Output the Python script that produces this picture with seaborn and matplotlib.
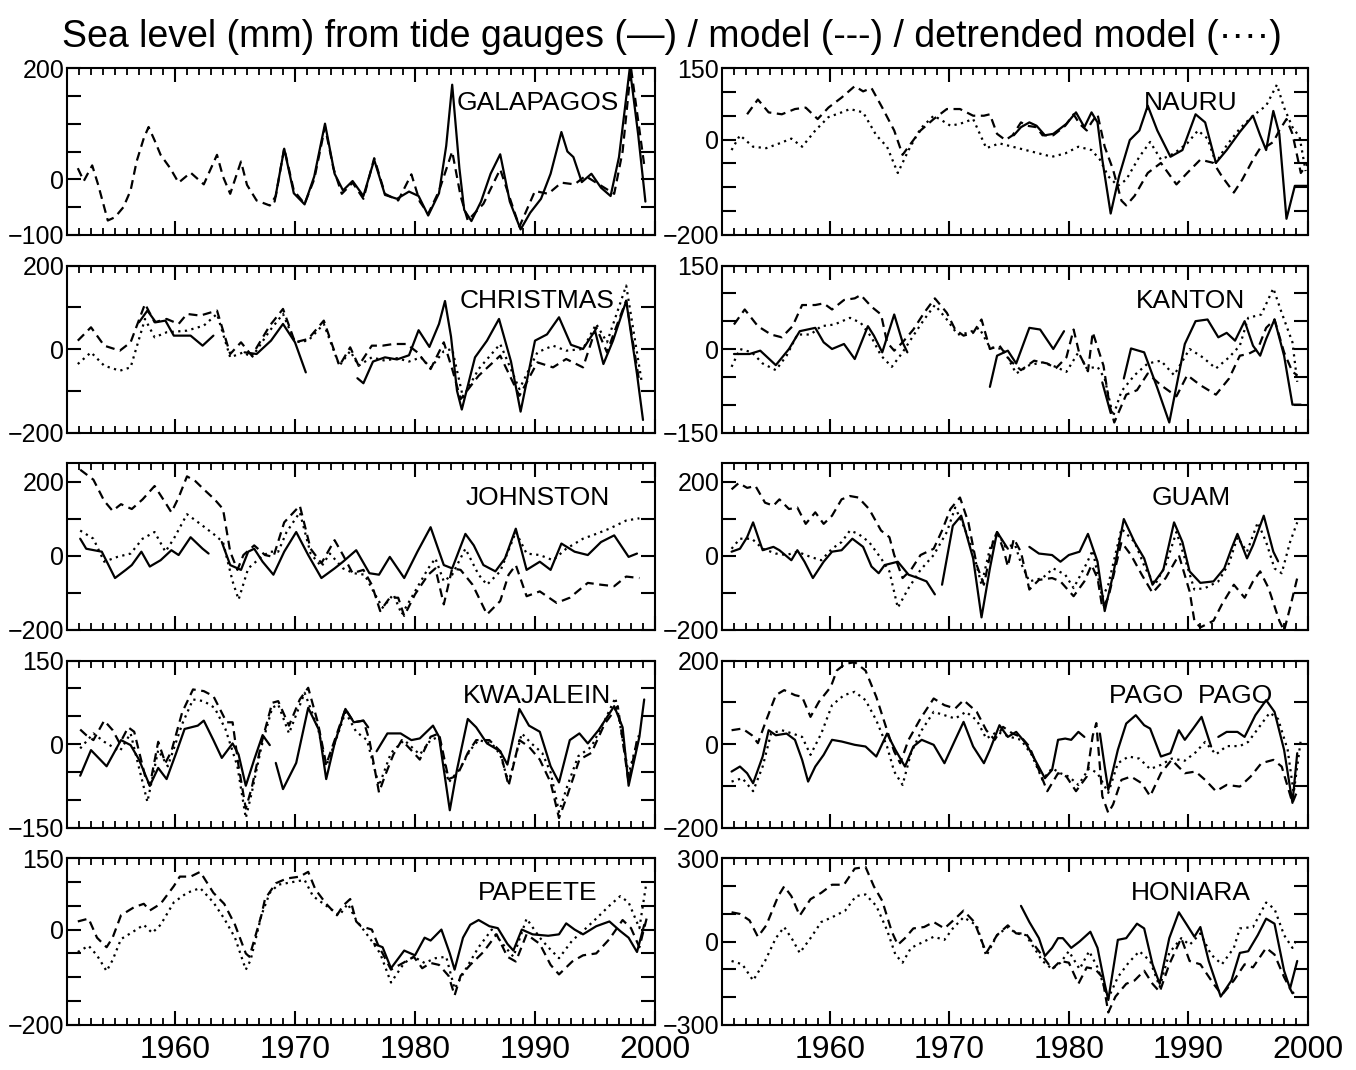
import numpy as np
import pandas as pd
import matplotlib
matplotlib.use("Agg")
import matplotlib.pyplot as plt
import seaborn as sns

# ---------------- data (year, sea level mm); None marks a gap ----------------
GAL_GAUGE = [(1968.3,-40),(1969.1,55),(1969.9,-25),(1970.8,-45),(1971.6,5),(1972.5,100),(1973.3,10),
             (1974.0,-20),(1974.8,-3),(1975.7,-30),(1976.6,35),(1977.5,-28),(1978.5,-35),(1979.5,-22),
             (1980.3,-30),(1981.1,-65),(1982.0,-25),(1982.6,60),(1983.1,170),(1983.7,20),(1984.1,-55),
             (1984.7,-75),(1985.5,-40),(1986.3,10),(1987.1,45),(1987.9,-40),(1988.8,-90),(1989.6,-60),
             (1990.5,-35),(1991.3,10),(1992.2,85),(1992.7,50),(1993.2,40),(1993.9,-5),(1994.7,10),
             (1995.5,-15),(1996.3,-30),(1997.0,40),(1997.9,200),(1998.6,80),(1999.2,-40)]
GAL_MODEL = [(1951.9,20),(1952.4,-3),(1953.1,25),(1953.6,-10),(1954.4,-74),(1955.0,-68),(1955.7,-50),
             (1956.3,-20),(1956.8,32),(1957.4,74),(1957.8,94),(1958.3,70),(1958.8,44),(1959.6,20),
             (1960.3,-6),(1961.3,12),(1962.4,-9),(1963.5,44),(1964.0,5),(1964.6,-26),(1965.5,32),
             (1966.0,-10),(1966.8,-38),(1967.9,-47),(1968.4,-30),(1969.1,56),(1969.9,-20),(1970.8,-44),
             (1971.6,0),(1972.5,94),(1973.2,20),(1973.9,-26),(1974.8,-6),(1975.7,-35),(1976.6,38),
             (1977.5,-26),(1978.6,-38),(1979.7,9),(1980.4,-40),(1981.1,-62),(1982.0,-21),(1983.1,50),
             (1983.8,-30),(1984.4,-74),(1985.7,-44),(1987.1,18),(1988.0,-40),(1988.7,-85),(1990.0,-21),
             (1991.1,-26),(1992.2,-6),(1993.3,-9),(1994.2,6),(1995.1,-6),(1996.6,-26),(1997.3,50),
             (1998.0,200),(1999.1,26)]
GAL_DETR = []

CHR_GAUGE = [(1957.0,64),(1957.7,92),(1958.4,64),(1959.2,68),(1959.9,32),(1961.3,32),(1962.3,8),(1963.2,32),
             (1964.0,None),(1965.8,-8),(1966.8,-12),(1968.0,20),(1969.0,60),(1970.0,16),(1970.9,-56),
             (1973.0,None),(1975.2,-70),(1975.7,-82),(1976.5,-30),(1977.5,-20),(1978.5,-25),(1979.5,-15),
             (1980.3,45),(1981.2,5),(1982.0,60),(1982.5,115),(1983.0,30),(1983.5,-100),(1983.9,-145),
             (1985.0,-20),(1986.0,20),(1987.0,72),(1988.0,-30),(1988.8,-150),(1990.0,20),(1991.0,35),
             (1992.0,76),(1993.0,10),(1994.0,0),(1995.0,44),(1995.7,-36),(1996.5,20),(1997.6,115),
             (1998.5,-60),(1999.0,-170)]
CHR_MODEL = [(1951.9,20),(1953.0,52),(1954.1,8),(1955.4,-4),(1956.3,16),(1957.5,108),(1958.3,64),
             (1959.3,72),(1960.3,60),(1961.0,84),(1962.1,80),(1963.5,92),(1964.6,-12),(1965.5,16),
             (1966.4,-16),(1967.9,56),(1969.0,96),(1970.0,16),(1971.1,24),(1972.4,68),(1973.7,-40),
             (1974.6,4),(1975.3,-40),(1976.4,8),(1977.3,8),(1978.2,12),(1979.3,12),(1980.2,-8),
             (1981.3,-48),(1982.4,16),(1983.1,-48),(1983.8,-120),(1985.3,-64),(1987.1,-16),(1988.7,-112),
             (1990.2,-32),(1991.5,-44),(1992.6,-24),(1994.0,-44),(1995.1,52),(1996.0,-8),(1996.6,40),
             (1997.6,116),(1998.7,-80)]
CHR_DETR = [(1951.9,-36),(1953.0,-8),(1954.1,-40),(1955.4,-52),(1956.3,-44),(1957.5,72),(1958.3,28),
            (1959.3,40),(1961.0,44),(1962.4,56),(1963.5,84),(1964.6,-20),(1965.7,-8),(1966.4,-20),
            (1967.9,44),(1969.0,84),(1970.0,16),(1971.1,20),(1972.4,60),(1973.7,-40),(1974.6,-5),
            (1975.3,-40),(1976.4,-20),(1977.5,-28),(1978.5,-22),(1979.5,-30),(1980.5,-20),(1981.3,-45),
            (1982.4,-5),(1983.1,0),(1984.0,-116),(1985.3,-48),(1987.1,12),(1988.7,-96),(1990.2,-8),
            (1991.5,8),(1992.6,-4),(1994.0,0),(1995.1,60),(1996.0,16),(1997.6,152),(1998.9,-80)]

JOH_GAUGE = [(1952.1,46),(1952.6,19),(1953.9,11),(1955.0,-60),(1955.9,-38),(1956.4,-25),(1957.2,11),
             (1957.9,-29),(1958.8,-12),(1959.7,15),(1960.3,2),(1961.3,50),(1962.3,19),(1962.8,6),
             (1963.4,None),(1963.9,37),(1964.6,-25),(1965.5,-38),(1966.1,11),(1966.6,19),(1967.3,-16),
             (1968.2,-51),(1969.1,11),(1970.1,64),(1971.1,2),(1972.2,-60),(1973.3,-34),(1974.0,-16),
             (1975.1,15),(1976.2,-47),(1977.0,-51),(1977.9,-3),(1979.1,-60),(1980.2,11),(1981.3,77),
             (1982.4,-25),(1983.1,-34),(1984.2,59),(1984.9,28),(1985.7,-25),(1986.7,-42),(1987.5,-7),
             (1988.4,73),(1989.3,-38),(1990.4,-16),(1991.3,-38),(1992.2,33),(1993.3,11),(1994.4,2),
             (1995.5,37),(1996.6,55),(1997.8,-3),(1998.5,6)]
JOH_MODEL = [(1952.1,232),(1953.2,205),(1954.1,148),(1954.8,121),(1955.5,139),(1956.4,126),(1957.3,152),
             (1958.3,188),(1959.2,143),(1959.7,117),(1960.3,157),(1961.0,214),(1961.7,201),(1962.4,179),
             (1963.3,152),(1964.0,126),(1964.6,11),(1965.2,-38),(1965.7,2),(1966.6,28),(1967.5,2),
             (1968.2,-3),(1969.1,90),(1970.4,135),(1971.3,19),(1972.2,-20),(1973.3,42),(1974.0,2),
             (1974.8,-47),(1975.7,-38),(1976.4,-78),(1977.1,-149),(1977.9,-113),(1978.6,-113),
             (1979.1,-162),(1980.0,-104),(1981.1,-51),(1981.7,-34),(1982.4,-131),(1983.1,-34),
             (1983.8,-38),(1984.8,-78),(1986.0,-158),(1987.1,-122),(1987.8,-51),(1988.4,-25),
             (1989.3,-109),(1990.4,-96),(1991.8,-127),(1992.9,-113),(1994.4,-73),(1995.5,-78),
             (1996.6,-82),(1997.6,-56),(1998.7,-60)]
JOH_DETR = [(1952.1,68),(1953.2,46),(1954.1,-16),(1955.2,-3),(1956.3,6),(1957.3,46),(1958.3,64),
            (1959.2,11),(1959.9,46),(1961.0,112),(1962.1,86),(1963.2,59),(1964.0,37),(1964.8,-69),
            (1965.3,-118),(1966.1,-34),(1967.2,-3),(1967.9,11),(1968.6,11),(1969.3,64),(1970.4,117),
            (1971.3,6),(1972.2,-29),(1972.9,6),(1974.0,-34),(1974.9,-47),(1975.8,-51),(1976.6,-100),
            (1977.3,-140),(1978.2,-104),(1978.9,-158),(1980.0,-96),(1981.1,-34),(1981.7,-7),
            (1982.4,-69),(1983.1,-51),(1984.2,19),(1985.3,-51),(1986.0,-78),(1987.1,-42),(1988.4,64),
            (1989.3,6),(1990.4,2),(1991.5,-12),(1992.6,19),(1994.0,46),(1995.1,59),(1996.2,73),
            (1997.6,95),(1998.7,101)]

KWA_GAUGE = [(1952.1,-57),(1953.0,-11),(1954.3,-40),(1955.5,7),(1956.3,-2),(1957.0,-28),(1957.9,-75),
             (1958.6,-43),(1959.3,-63),(1960.1,-16),(1960.8,27),(1961.9,33),(1962.4,42),(1963.2,7),
             (1963.9,-25),(1964.8,1),(1965.3,-19),(1965.9,-75),(1966.6,-28),(1967.3,16),(1967.9,-2),
             (1968.1,None),(1968.4,-34),(1969.0,-81),(1970.1,-34),(1971.1,65),(1972.0,25),(1972.6,-63),
             (1973.3,1),(1974.2,63),(1974.9,39),(1975.7,42),(1976.1,30),(1976.5,None),(1976.8,-13),
             (1977.7,19),(1978.8,19),(1979.7,7),(1980.4,10),(1981.5,33),(1982.0,13),(1982.9,-119),
             (1983.5,-46),(1984.4,45),(1985.1,30),(1986.0,1),(1987.1,-13),(1987.7,-37),(1988.7,63),
             (1989.5,33),(1990.4,22),(1991.3,-40),(1992.0,-69),(1992.9,7),(1993.7,19),(1994.4,1),
             (1995.3,25),(1996.6,68),(1997.3,30),(1997.8,-75),(1998.7,13),(1999.1,80)]
KWA_MODEL = [(1952.1,26),(1952.6,16),(1953.2,7),(1954.1,42),(1954.8,25),(1955.4,1),(1956.1,30),
             (1956.6,22),(1957.5,-57),(1957.9,-75),(1958.6,4),(1959.2,-34),(1959.7,-13),(1960.6,57),
             (1961.5,98),(1962.4,95),(1963.2,86),(1964.3,39),(1964.8,39),(1965.3,-40),(1965.9,-116),
             (1966.4,-78),(1967.2,1),(1968.1,74),(1968.6,77),(1969.5,33),(1970.4,80),(1971.1,101),
             (1971.9,39),(1972.6,-37),(1973.5,19),(1974.2,63),(1974.9,39),(1975.7,42),(1976.2,7),
             (1977.0,-87),(1977.5,-57),(1978.2,-19),(1978.9,7),(1979.9,-16),(1980.4,-28),(1981.3,13),
             (1982.0,19),(1982.8,-63),(1983.5,-57),(1984.4,-16),(1985.1,7),(1986.2,7),(1987.1,-13),
             (1987.8,-75),(1988.7,7),(1989.5,-5),(1990.4,-28),(1991.3,-69),(1992.0,-133),(1992.7,-92),
             (1993.7,-28),(1994.7,-16),(1995.8,36),(1996.9,68),(1997.8,-69),(1998.5,7)]
KWA_DETR = [(1952.1,-8),(1953.2,19),(1954.1,4),(1955.4,-13),(1956.3,19),(1957.7,-104),(1958.6,-11),
            (1959.4,-40),(1960.6,36),(1961.5,80),(1962.4,77),(1963.3,65),(1964.2,27),(1965.2,-40),
            (1965.9,-133),(1966.4,-87),(1967.2,-5),(1968.1,65),(1968.6,71),(1969.5,19),(1970.8,92),
            (1971.9,30),(1972.6,-40),(1973.5,13),(1974.2,57),(1975.1,22),(1976.0,7),(1977.0,-75),
            (1978.0,-16),(1979.1,7),(1980.4,-19),(1981.3,7),(1982.0,13),(1982.8,-69),(1983.7,-46),
            (1984.6,-11),(1985.3,7),(1986.4,1),(1987.1,-19),(1987.8,-69),(1988.9,19),(1989.7,1),
            (1990.6,-16),(1991.3,-51),(1992.0,-122),(1992.7,-75),(1993.6,-22),(1994.7,-5),(1995.8,42),
            (1996.7,83),(1997.8,-54),(1998.7,19)]

PAP_GAUGE = [(1976.6,-30),(1977.3,-37),(1978.0,-81),(1979.1,-44),(1980.0,-54),(1980.8,-17),(1981.3,-23),
             (1982.2,0),(1982.9,-50),(1983.3,-84),(1984.0,-17),(1984.6,10),(1985.3,20),(1986.2,7),
             (1986.9,3),(1987.7,-30),(1988.2,-44),(1988.9,0),(1989.8,-10),(1991.1,-13),(1992.0,-10),
             (1992.6,13),(1993.3,0),(1994.0,-10),(1995.1,7),(1996.2,17),(1997.1,-3),(1997.8,-17),
             (1998.5,-47),(1999.1,10)]
PAP_MODEL = [(1951.9,17),(1952.8,23),(1953.5,-17),(1954.3,-37),(1954.8,-17),(1955.5,30),(1956.6,47),
             (1957.4,54),(1957.9,40),(1958.8,54),(1959.9,91),(1960.4,111),(1961.3,111),(1962.1,121),
             (1963.2,77),(1964.1,54),(1965.0,10),(1965.9,-50),(1966.2,-57),(1967.2,30),(1967.5,64),
             (1968.4,97),(1969.3,107),(1970.4,111),(1971.1,121),(1971.7,84),(1972.6,54),(1973.5,30),
             (1974.0,50),(1974.6,64),(1975.1,17),(1975.5,7),(1976.4,0),(1977.0,-37),(1977.3,-50),
             (1978.0,-84),(1979.0,-70),(1979.9,-57),(1980.6,-81),(1981.3,-70),(1982.0,-74),(1982.8,-97),
             (1983.3,-138),(1983.8,-97),(1984.6,-74),(1985.7,-47),(1986.8,-10),(1987.7,-57),(1988.4,-67),
             (1989.3,-10),(1990.4,-30),(1991.3,-74),(1992.0,-94),(1993.1,-67),(1994.0,-54),(1995.1,-50),
             (1996.2,-20),(1997.3,20),(1998.0,3),(1998.7,-37),(1999.3,23)]
PAP_DETR = [(1951.9,-47),(1952.8,-34),(1953.5,-54),(1954.3,-87),(1954.8,-64),(1955.5,-20),(1956.6,-3),
            (1957.4,10),(1958.1,-7),(1958.8,10),(1959.9,57),(1961.0,77),(1962.1,87),(1963.2,57),
            (1964.1,23),(1965.0,-17),(1965.9,-84),(1966.3,-64),(1967.2,30),(1967.9,77),(1968.6,94),
            (1970.1,101),(1970.8,104),(1971.5,70),(1972.6,50),(1973.7,30),(1974.4,54),(1975.1,20),
            (1976.2,-17),(1977.1,-50),(1978.0,-111),(1979.1,-70),(1979.9,-57),(1980.8,-70),(1981.7,-60),
            (1982.6,-57),(1983.3,-124),(1984.2,-84),(1985.3,-37),(1986.4,0),(1987.3,-30),(1988.2,-57),
            (1989.3,23),(1990.4,-17),(1991.1,-37),(1992.0,-60),(1993.1,-23),(1994.0,-3),(1995.1,23),
            (1996.2,50),(1997.1,70),(1997.8,57),(1998.7,3),(1999.3,101)]

NAU_GAUGE = [(1975.4,9),(1976.0,26),(1976.7,36),(1977.3,29),(1978.0,9),(1978.7,12),(1979.8,33),(1980.6,57),
             (1981.3,26),(1981.9,57),(1982.4,36),(1982.8,-42),(1983.5,-155),(1984.2,-77),(1985.1,-1),
             (1985.9,19),(1986.6,71),(1987.4,19),(1988.5,-36),(1989.5,-22),(1990.6,53),(1991.4,36),
             (1992.3,-49),(1993.2,-22),(1994.3,16),(1995.4,50),(1996.0,9),(1996.5,-22),(1997.1,60),
             (1997.6,12),(1998.2,-166),(1998.9,-97),(1999.9,-97)]
NAU_MODEL = [(1953.1,53),(1954.0,84),(1954.9,57),(1956.0,53),(1957.1,64),(1958.0,67),(1959.0,43),
             (1959.9,67),(1961.0,88),(1962.1,112),(1962.8,101),(1963.5,108),(1964.4,67),(1965.4,19),
             (1966.1,-32),(1966.8,-8),(1967.6,19),(1968.7,43),(1969.8,64),(1970.9,64),(1972.0,50),
             (1972.9,50),(1973.4,53),(1974.0,12),(1974.7,-1),(1975.3,9),(1976.0,36),(1976.5,29),
             (1977.3,26),(1977.8,9),(1978.7,9),(1979.7,29),(1980.4,53),(1980.9,33),(1981.5,19),
             (1981.9,36),(1982.4,53),(1983.0,-15),(1983.7,-63),(1984.4,-128),(1984.8,-138),(1985.5,-118),
             (1986.6,-70),(1987.7,-49),(1989.0,-94),(1989.9,-70),(1991.0,-42),(1992.1,-49),(1992.8,-77),
             (1993.8,-111),(1994.5,-84),(1995.4,-42),(1996.0,-18),(1996.5,-15),(1997.1,-5),(1997.6,19),
             (1998.2,43),(1998.7,12),(1999.4,-70),(2000.0,-49)]
NAU_DETR = [(1951.8,-22),(1952.5,9),(1953.6,-15),(1954.7,-18),(1955.8,-8),(1956.8,2),(1957.7,-15),
            (1958.8,19),(1959.9,47),(1961.0,57),(1961.7,64),(1962.8,57),(1963.9,9),(1964.8,-15),
            (1965.7,-70),(1966.6,-22),(1967.6,23),(1968.7,50),(1969.4,40),(1970.1,29),(1970.9,33),
            (1972.0,43),(1973.1,-18),(1974.2,-8),(1975.3,-15),(1976.4,-22),(1977.5,-29),(1978.6,-36),
            (1979.7,-29),(1980.8,-15),(1981.9,-22),(1982.6,-42),(1983.3,-77),(1984.1,-97),(1984.8,-84),
            (1985.9,-36),(1986.8,-5),(1987.7,-42),(1988.8,-29),(1989.9,-8),(1990.8,19),(1991.6,2),
            (1992.3,-49),(1993.2,-12),(1994.3,23),(1995.4,50),(1996.5,71),(1997.4,115),(1998.0,67),
            (1998.7,26),(1999.3,5),(1999.8,-66)]

KAN_GAUGE = [(1952.0,-9),(1953.3,-9),(1954.2,-3),(1955.5,-29),(1956.6,0),(1957.5,32),(1958.8,38),
             (1959.5,12),(1960.2,0),(1961.2,9),(1962.1,-18),(1963.2,41),(1963.7,24),(1964.4,-6),
             (1965.4,62),(1966.1,12),(1966.5,-6),(1970.0,None),(1973.4,-68),(1974.0,-12),(1974.9,-3),
             (1975.6,-26),(1976.7,38),(1977.6,35),(1978.7,0),(1979.6,32),(1981.0,None),(1982.8,-60),
             (1983.5,-115),(1984.0,None),(1984.6,-53),(1985.2,1),(1986.3,-6),(1987.4,-70),(1988.4,-132),
             (1989.7,9),(1990.6,50),(1991.6,53),(1992.5,21),(1993.2,29),(1993.9,15),(1994.7,50),
             (1995.4,6),(1996.0,-12),(1996.5,18),(1997.2,53),(1998.0,-12),(1998.7,-100),(1999.4,-100)]
KAN_MODEL = [(1952.0,44),(1952.9,71),(1954.0,41),(1955.1,26),(1956.0,21),(1956.9,41),(1957.7,79),
             (1958.8,79),(1959.5,82),(1960.2,71),(1961.2,88),(1962.1,91),(1962.6,97),(1963.5,76),
             (1964.3,62),(1964.8,12),(1965.4,-3),(1966.1,12),(1967.0,35),(1967.9,65),(1968.8,91),
             (1969.8,65),(1970.5,35),(1971.2,24),(1972.0,29),(1972.7,53),(1973.4,0),(1974.2,6),
             (1975.1,-21),(1976.0,-38),(1977.1,-21),(1978.2,-26),(1978.9,-35),(1979.8,-15),(1980.4,35),
             (1980.9,-10),(1981.6,-40),(1982.0,30),(1982.9,-30),(1983.4,-100),(1983.8,-132),(1984.8,-82),
             (1985.7,-74),(1986.6,-44),(1987.7,-65),(1989.0,-85),(1989.9,-47),(1991.0,-65),(1992.3,-82),
             (1993.4,-53),(1994.3,-12),(1995.0,-9),(1995.8,0),(1996.5,38),(1997.2,53),(1998.0,-6),
             (1998.7,-41),(1999.1,-47)]
KAN_DETR = [(1951.8,-32),(1952.5,0),(1953.5,-6),(1954.4,-26),(1955.5,-38),(1956.4,-12),(1957.3,26),
            (1958.4,26),(1959.3,41),(1960.4,44),(1961.7,56),(1962.6,47),(1963.5,21),(1964.3,-12),
            (1965.2,-32),(1966.1,-6),(1967.0,24),(1967.9,53),(1968.8,79),(1969.8,53),(1970.7,26),
            (1971.6,29),(1972.5,38),(1973.4,3),(1974.5,0),(1975.6,-44),(1976.7,-29),(1977.8,-24),
            (1978.9,-32),(1979.8,-41),(1980.8,-6),(1981.5,-35),(1982.4,-32),(1983.0,-53),(1983.7,-121),
            (1984.4,-76),(1985.5,-47),(1986.6,-26),(1987.7,-21),(1988.8,-47),(1990.1,0),(1991.2,-15),
            (1992.3,-35),(1993.4,-15),(1994.3,6),(1995.0,56),(1996.1,62),(1997.1,109),(1997.8,65),
            (1998.7,12),(1999.1,-59)]

GUA_GAUGE = [(1951.8,11),(1952.5,19),(1953.1,50),(1953.6,90),(1954.4,15),(1955.3,24),(1955.8,15),
             (1956.8,-12),(1957.3,15),(1957.9,-16),(1958.6,-60),(1959.5,-16),(1960.2,11),(1961.0,15),
             (1961.9,46),(1962.8,24),(1963.5,-29),(1964.1,-47),(1964.6,-25),(1965.7,-16),(1966.6,-51),
             (1967.4,-60),(1968.1,-69),(1968.8,-104),(1969.1,None),(1969.4,-78),(1970.3,81),(1971.0,108),
             (1972.0,-7),(1972.7,-166),(1973.4,-34),(1974.0,64),(1974.9,19),(1975.8,None),(1976.7,24),
             (1977.5,6),(1978.6,2),(1979.3,-16),(1980.0,2),(1980.9,11),(1981.6,59),(1982.4,-16),
             (1983.0,-149),(1983.7,-51),(1984.6,99),(1985.5,37),(1986.3,-7),(1987.0,-78),(1987.9,-38),
             (1988.8,90),(1989.5,37),(1990.1,-42),(1991.0,-73),(1992.1,-69),(1993.0,-34),(1993.6,19),
             (1994.1,59),(1994.9,-7),(1995.4,28),(1996.3,108),(1997.1,11),(1997.5,-15)]
GUA_MODEL = [(1951.8,179),(1952.4,196),(1953.1,183),(1953.8,188),(1954.6,143),(1955.3,135),(1955.8,152),
             (1956.6,126),(1957.3,130),(1958.0,86),(1958.8,117),(1959.5,86),(1960.2,108),(1961.0,152),
             (1961.7,161),(1962.4,157),(1963.3,126),(1964.3,68),(1965.0,50),(1965.4,2),(1966.1,-60),
             (1966.8,-38),(1967.6,2),(1968.7,19),(1969.4,68),(1970.1,126),(1970.9,157),(1971.6,90),
             (1972.3,-25),(1972.9,-78),(1973.6,30),(1974.0,64),(1974.6,10),(1974.9,-29),(1975.4,46),
             (1976.0,10),(1976.7,-91),(1977.5,-65),(1978.6,-60),(1979.3,-69),(1980.4,-109),(1981.3,-69),
             (1981.9,-25),(1982.4,-60),(1982.8,-140),(1983.3,-113),(1984.4,37),(1985.2,2),(1986.1,-51),
             (1987.0,-100),(1988.1,-60),(1989.2,2),(1990.1,-96),(1990.5,-175),(1991.0,-193),(1992.1,-175),
             (1992.8,-131),(1993.8,-78),(1994.7,-113),(1995.4,-69),(1996.0,-42),(1996.7,-87),(1997.6,-175),
             (1998.0,-202),(1998.5,-140),(1999.1,-60)]
GUA_DETR = [(1951.8,19),(1952.5,46),(1953.5,46),(1954.4,19),(1955.5,6),(1956.4,2),(1957.3,11),
            (1958.4,-3),(1959.3,-12),(1960.2,19),(1961.0,37),(1961.7,68),(1962.4,59),(1963.3,37),
            (1964.3,-7),(1965.0,-42),(1965.7,-140),(1966.6,-87),(1967.6,-38),(1968.7,2),(1969.8,64),
            (1970.5,130),(1971.3,73),(1972.0,11),(1972.7,-78),(1973.4,19),(1974.0,64),(1974.7,24),
            (1975.5,30),(1976.0,-20),(1976.7,-69),(1977.8,-60),(1978.7,-34),(1979.7,-51),(1980.4,-87),
            (1981.5,-20),(1982.0,15),(1982.8,-113),(1983.3,-78),(1984.4,73),(1985.5,37),(1986.4,-34),
            (1987.2,-78),(1988.1,-25),(1989.0,64),(1989.7,-7),(1990.5,-91),(1991.4,-87),(1992.5,-69),
            (1993.4,-20),(1994.1,50),(1994.9,11),(1995.8,90),(1996.5,37),(1997.2,-34),(1997.8,-47),
            (1998.5,37),(1999.1,90)]

PAG_GAUGE = [(1951.8,-66),(1952.5,-54),(1953.1,-70),(1953.6,-94),(1954.4,-30),(1954.9,33),(1955.5,21),
             (1956.4,25),(1957.1,10),(1957.7,-38),(1958.2,-90),(1958.8,-54),(1959.5,-26),(1960.2,10),
             (1961.0,6),(1962.1,-2),(1963.0,-6),(1963.9,-30),(1964.8,25),(1965.5,-14),(1966.3,-54),
             (1967.0,-6),(1967.7,10),(1968.7,-2),(1969.6,-46),(1970.5,10),(1971.2,53),(1972.0,-6),
             (1972.9,-46),(1973.4,-14),(1974.2,45),(1974.9,17),(1975.6,29),(1976.4,2),(1977.1,-34),
             (1978.0,-82),(1978.6,-62),(1979.1,10),(1979.7,13),(1980.2,10),(1980.8,29),(1981.3,17),
             (1982.0,None),(1982.6,25),(1983.0,-54),(1983.3,-110),(1984.1,-14),(1984.8,49),(1985.6,69),
             (1986.3,45),(1986.8,37),(1987.7,-30),(1988.5,-22),(1989.2,33),(1989.7,10),(1990.4,37),
             (1991.1,65),(1991.9,-6),(1992.2,None),(1992.5,17),(1993.2,29),(1994.1,29),(1994.7,17),
             (1995.6,69),(1996.5,105),(1997.2,77),(1998.0,-14),(1998.7,-141),(1999.1,-22)]
PAG_MODEL = [(1951.8,33),(1952.7,37),(1953.5,21),(1954.0,2),(1954.7,57),(1955.5,117),(1956.2,129),
             (1957.1,117),(1957.7,113),(1958.4,65),(1959.1,101),(1960.1,137),(1960.6,176),(1961.3,192),
             (1962.1,196),(1963.0,176),(1963.9,113),(1964.8,33),(1965.4,-18),(1965.9,-46),(1966.6,10),
             (1967.6,61),(1968.7,109),(1969.6,93),(1970.5,85),(1971.2,105),(1972.3,77),(1973.1,33),
             (1973.8,10),(1974.5,41),(1975.3,25),(1976.0,17),(1976.7,-6),(1977.6,-70),(1978.2,-113),
             (1979.1,-70),(1979.8,-78),(1980.6,-113),(1981.5,-78),(1982.0,20),(1982.3,50),(1982.8,-125),
             (1983.3,-165),(1983.7,-145),(1984.4,-86),(1985.2,-78),(1986.1,-94),(1986.8,-125),
             (1987.7,-70),(1988.6,-38),(1989.7,-70),(1990.6,-66),(1991.4,-86),(1992.3,-113),(1993.2,-98),
             (1994.3,-102),(1995.2,-78),(1996.1,-46),(1997.1,-38),(1997.8,-54),(1998.3,-102),
             (1998.7,-141),(1999.1,-113)]
PAG_DETR = [(1951.8,-90),(1952.7,-82),(1953.6,-113),(1954.4,-54),(1955.1,25),(1956.0,33),(1956.9,25),
            (1957.7,17),(1958.4,-26),(1959.3,25),(1960.2,93),(1961.2,117),(1962.1,125),(1963.0,105),
            (1963.9,57),(1964.8,-6),(1965.4,-66),(1966.1,-98),(1966.8,-22),(1967.7,33),(1968.7,77),
            (1969.6,69),(1970.5,61),(1971.4,77),(1972.3,57),(1973.1,13),(1974.0,29),(1975.1,17),
            (1976.0,10),(1976.9,-26),(1977.8,-86),(1978.6,-58),(1979.3,-70),(1980.0,-78),(1980.8,-98),
            (1981.7,-58),(1982.4,-70),(1983.3,-117),(1984.1,-46),(1985.0,-30),(1985.9,-35),(1986.8,-60),
            (1987.7,-50),(1988.6,-35),(1989.7,-40),(1990.6,-20),(1991.4,5),(1992.3,-25),(1993.2,-5),
            (1994.3,-5),(1995.0,5),(1995.9,40),(1996.8,75),(1997.5,60),(1998.3,-14),(1998.8,-117),
            (1999.4,10)]

HON_GAUGE = [(1976.0,128),(1976.7,70),(1977.5,12),(1978.0,-52),(1978.6,-23),(1979.1,12),(1979.5,12),
             (1980.2,-23),(1980.9,0),(1981.8,35),(1982.4,-23),(1983.0,-152),(1983.3,-210),(1984.1,6),
             (1984.8,12),(1985.7,64),(1986.3,47),(1987.0,-82),(1987.6,-152),(1988.4,12),(1989.2,105),
             (1989.9,58),(1990.5,17),(1991.0,52),(1991.7,-70),(1992.7,-198),(1993.6,-140),(1994.3,-41),
             (1995.0,-35),(1995.8,23),(1996.5,82),(1997.2,64),(1998.0,-105),(1998.5,-169),(1999.1,-70)]
HON_MODEL = [(1951.8,105),(1952.5,99),(1953.3,76),(1954.0,17),(1954.7,58),(1955.7,163),(1956.2,198),
             (1956.8,163),(1957.5,93),(1958.4,152),(1959.3,175),(1960.2,204),(1961.2,204),(1962.1,262),
             (1963.0,268),(1963.7,198),(1964.4,146),(1965.2,35),(1965.7,-12),(1966.3,12),(1967.0,47),
             (1967.9,52),(1968.7,70),(1969.6,47),(1970.5,82),(1971.2,111),(1972.1,70),(1973.1,-41),
             (1974.0,23),(1974.9,58),(1975.6,29),(1976.4,29),(1977.1,-12),(1977.8,-52),(1978.6,-99),
             (1979.3,-70),(1980.0,-76),(1980.8,-152),(1981.5,-93),(1982.2,-99),(1982.8,-128),
             (1983.3,-255),(1983.9,-198),(1984.8,-152),(1985.5,-140),(1986.3,-105),(1987.0,-152),
             (1987.6,-181),(1988.4,-82),(1989.4,12),(1990.1,-70),(1991.0,-82),(1992.1,-152),(1992.8,-192),
             (1993.8,-140),(1994.7,-82),(1995.4,-93),(1996.5,-23),(1997.2,-47),(1998.0,-128),(1998.7,-186),
             (1999.1,-175)]
HON_DETR = [(1951.8,-70),(1952.7,-82),(1953.6,-140),(1954.6,-70),(1955.5,12),(1956.2,52),(1956.9,6),
            (1957.5,-41),(1958.4,12),(1959.3,70),(1960.2,87),(1961.3,111),(1962.2,163),(1963.0,169),
            (1963.9,128),(1964.8,41),(1965.5,-47),(1966.1,-76),(1966.8,-23),(1967.9,0),(1968.7,17),
            (1969.6,6),(1970.3,47),(1971.2,87),(1972.3,58),(1973.1,-52),(1974.0,23),(1974.9,52),
            (1975.6,29),(1976.4,23),(1977.1,-23),(1977.8,-70),(1978.6,-99),(1979.3,-76),(1980.0,-35),
            (1980.9,-99),(1981.7,-35),(1982.4,-93),(1983.3,-204),(1984.1,-128),(1985.0,-76),(1985.9,-35),
            (1986.8,-70),(1987.6,-163),(1988.4,-41),(1989.4,12),(1990.1,-12),(1991.0,29),(1991.9,-47),
            (1992.8,-82),(1993.8,-23),(1994.3,47),(1995.4,52),(1996.5,140),(1997.2,117),(1998.0,23),
            (1998.7,-23),(1999.1,12)]

# panel layout and axis settings
LEFT_STATIONS = ["GALAPAGOS", "CHRISTMAS", "JOHNSTON", "KWAJALEIN", "PAPEETE"]
RIGHT_STATIONS = ["NAURU", "KANTON", "GUAM", "PAGO  PAGO", "HONIARA"]
SERIES = {
    "GALAPAGOS": (GAL_GAUGE, GAL_MODEL, GAL_DETR), "CHRISTMAS": (CHR_GAUGE, CHR_MODEL, CHR_DETR),
    "JOHNSTON": (JOH_GAUGE, JOH_MODEL, JOH_DETR), "KWAJALEIN": (KWA_GAUGE, KWA_MODEL, KWA_DETR),
    "PAPEETE": (PAP_GAUGE, PAP_MODEL, PAP_DETR), "NAURU": (NAU_GAUGE, NAU_MODEL, NAU_DETR),
    "KANTON": (KAN_GAUGE, KAN_MODEL, KAN_DETR), "GUAM": (GUA_GAUGE, GUA_MODEL, GUA_DETR),
    "PAGO  PAGO": (PAG_GAUGE, PAG_MODEL, PAG_DETR), "HONIARA": (HON_GAUGE, HON_MODEL, HON_DETR),
}
Y_LIMITS = {"GALAPAGOS": (-100, 200), "CHRISTMAS": (-200, 200), "JOHNSTON": (-200, 250),
            "KWAJALEIN": (-150, 150), "PAPEETE": (-200, 150), "NAURU": (-200, 150),
            "KANTON": (-150, 150), "GUAM": (-200, 250), "PAGO  PAGO": (-200, 200), "HONIARA": (-300, 300)}
Y_STEP = {"GALAPAGOS": 50, "CHRISTMAS": 100, "JOHNSTON": 100, "KWAJALEIN": 50, "PAPEETE": 50,
          "NAURU": 50, "KANTON": 50, "GUAM": 100, "PAGO  PAGO": 100, "HONIARA": 100}
Y_LABELED = {"GALAPAGOS": (200, 0, -100), "CHRISTMAS": (200, 0, -200), "JOHNSTON": (200, 0, -200),
             "KWAJALEIN": (150, 0, -150), "PAPEETE": (150, 0, -200), "NAURU": (150, 0, -200),
             "KANTON": (150, 0, -150), "GUAM": (200, 0, -200), "PAGO  PAGO": (200, 0, -200),
             "HONIARA": (300, 0, -300)}
YEAR_TICKS = [1960, 1970, 1980, 1990, 2000]
KINDS = ["gauge", "model", "detrended"]
TITLE = "Sea level (mm) from tide gauges (\u2014) / model (---) / detrended model (\u00b7\u00b7\u00b7\u00b7)"

# ---------------- build long table ----------------
rows = []
for st, triple in SERIES.items():
    for kind, pts in zip(KINDS, triple):
        seg = 0
        for x, y in pts:
            if y is None:
                seg += 1
                continue
            rows.append((st, kind, x, y, f"{kind}{seg}"))
df = pd.DataFrame(rows, columns=["station", "kind", "year", "value", "unit"])

# ---------------- style ----------------
sns.set_theme(style="ticks", rc={
    "axes.edgecolor": "black", "axes.linewidth": 1.5, "xtick.color": "black", "ytick.color": "black",
    "text.color": "black", "axes.labelcolor": "black", "xtick.major.width": 1.5,
    "ytick.major.width": 1.5, "xtick.minor.width": 1.3,
})
plt.rcParams["font.family"] = ["Liberation Sans", "DejaVu Sans"]

W, H = 1356, 1070
fig = plt.figure(figsize=(W / 100, H / 100), dpi=100)

COL_X = [(67, 655), (722, 1308)]
ROW_TOP0, ROW_PITCH, ROW_H = 68, 197.5, 167
DASHES = {"gauge": "", "model": (4, 2.5), "detrended": (1, 2)}

for c, stations in enumerate([LEFT_STATIONS, RIGHT_STATIONS]):
    x0, x1 = COL_X[c]
    for r, st in enumerate(stations):
        top = ROW_TOP0 + r * ROW_PITCH
        ax = fig.add_axes([x0 / W, 1 - (top + ROW_H) / H, (x1 - x0) / W, ROW_H / H])
        sub = df[df.station == st]
        sns.lineplot(data=sub, x="year", y="value", style="kind", style_order=KINDS,
                     dashes=DASHES, units="unit", estimator=None, sort=False,
                     color="black", linewidth=1.6, legend=False, ax=ax)
        lo, hi = Y_LIMITS[st]
        ax.set_xlim(1951, 2000)
        ax.set_ylim(lo, hi)
        step = Y_STEP[st]
        yt = list(range(lo, min(hi, Y_LABELED[st][0]) + 1, step))
        ax.set_yticks(yt)
        ax.set_yticklabels([str(v).replace("-", "\u2212") if v in Y_LABELED[st] else "" for v in yt])
        ax.set_xticks(YEAR_TICKS)
        ax.set_xticks(list(range(1951, 2000)), minor=True)
        ax.tick_params(axis="y", which="both", direction="in", left=True, right=True,
                       length=10, width=1.5, labelsize=18, pad=2)
        ax.tick_params(axis="x", which="major", direction="in", top=True, bottom=True,
                       length=10, width=1.5, labelsize=23, pad=7)
        ax.tick_params(axis="x", which="minor", direction="in", top=True, bottom=True,
                       length=5, width=1.3)
        if r < len(stations) - 1:
            ax.tick_params(axis="x", labelbottom=False)
        ax.set_xlabel("")
        ax.set_ylabel("")
        for sp in ax.spines.values():
            sp.set_visible(True)
            sp.set_linewidth(1.5)
        ax.text(0.80, 0.79, st, transform=ax.transAxes, ha="center", va="center", fontsize=19)

fig.text(672 / W, 1 - 37 / H, TITLE, ha="center", va="center", fontsize=27)

fig.savefig("out.png", dpi=100)
